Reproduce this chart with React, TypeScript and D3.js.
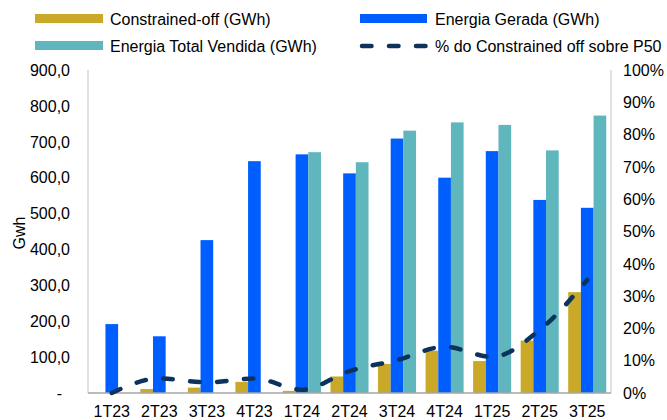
import React from "react";
import * as d3 from "d3";

const categories = ["1T23", "2T23", "3T23", "4T23", "1T24", "2T24", "3T24", "4T24", "1T25", "2T25", "3T25"];
const constrainedOff: number[] = [0, 11, 15, 31, 6, 46, 81, 118, 89, 146, 281];
const energiaGerada: number[] = [192, 158, 426, 646, 665, 612, 709, 600, 674, 538, 516];
const energiaVendida: (number | null)[] = [null, null, null, null, 671, 643, 731, 754, 747, 676, 773];
const pctConstrained: number[] = [0.0, 0.045, 0.033, 0.045, 0.01, 0.068, 0.102, 0.143, 0.112, 0.195, 0.35];
const leftTicks = [0, 100, 200, 300, 400, 500, 600, 700, 800, 900];
const rightTicks = [0, 0.1, 0.2, 0.3, 0.4, 0.5, 0.6, 0.7, 0.8, 0.9, 1.0];

const W = 667, H = 420;
const plot = { left: 88, right: 611, top: 70, bottom: 393 };
const GOLD = "#C9A927";
const BLUE = "#005EFF";
const TEAL = "#5FB6BD";
const NAVY = "#0C335E";
const FONT = "'Liberation Sans', Arial, sans-serif";

export default function App() {
  const x = d3.scaleBand<string>().domain(categories).range([plot.left, plot.right]).paddingInner(0.2).paddingOuter(0.1);
  const x1 = d3.scaleBand<string>().domain(["c", "g", "v"]).range([0, x.bandwidth()]);
  const y = d3.scaleLinear().domain([0, 900]).range([plot.bottom, plot.top]);
  const y2 = d3.scaleLinear().domain([0, 1]).range([plot.bottom, plot.top]);
  const fmtL = (v: number) => (v === 0 ? "-" : d3.format(".1f")(v).replace(".", ","));
  const fmtR = d3.format(".0%");

  const line = d3
    .line<number>()
    .x((_, i) => (x(categories[i]) as number) + x.bandwidth() / 2)
    .y((d) => y2(d))
    .curve(d3.curveMonotoneX);

  const dash = "9.5,17.5";

  return (
    <svg width={W} height={H} style={{ position: "absolute", left: 0, top: 0, background: "#fff" }} fontFamily={FONT}>
      {/* legend */}
      <rect x={35} y={14} width={68} height={9} fill={GOLD} />
      <text x={110} y={24.5} fontSize={16} fill="#000">Constrained-off (GWh)</text>
      <rect x={360} y={14} width={67} height={9} fill={BLUE} />
      <text x={435} y={24.5} fontSize={16} fill="#000">Energia Gerada (GWh)</text>
      <rect x={35} y={41} width={68} height={9} fill={TEAL} />
      <text x={110} y={51.5} fontSize={16} fill="#000">Energia Total Vendida (GWh)</text>
      <line x1={362} x2={427} y1={46} y2={46} stroke={NAVY} strokeWidth={4.5} strokeDasharray={dash} strokeLinecap="round" />
      <text x={435} y={51.5} fontSize={16} fill="#000">% do Constrained off sobre P50</text>

      {/* axes lines */}
      <line x1={plot.left} x2={plot.left} y1={plot.top} y2={plot.bottom} stroke="#D9D9D9" strokeWidth={1.5} />
      <line x1={plot.right} x2={plot.right} y1={plot.top} y2={plot.bottom} stroke="#D9D9D9" strokeWidth={1.5} />

      {/* left ticks */}
      {leftTicks.map((t) => (
        <text key={"l" + t} x={t === 0 ? 62 : 70} y={y(t)} dy="0.36em" textAnchor="end" fontSize={16} fill="#000">
          {fmtL(t)}
        </text>
      ))}
      {/* right ticks */}
      {rightTicks.map((t) => (
        <text key={"r" + t} x={623} y={y2(t)} dy="0.36em" textAnchor="start" fontSize={16} fill="#000">
          {fmtR(t)}
        </text>
      ))}
      <text transform={`translate(25,233) rotate(-90)`} textAnchor="middle" fontSize={16} fill="#000">Gwh</text>

      {/* bars */}
      {categories.map((c, i) => {
        const x0 = x(c) as number;
        const bars: { key: string; v: number | null; color: string }[] = [
          { key: "c", v: constrainedOff[i], color: GOLD },
          { key: "g", v: energiaGerada[i], color: BLUE },
          { key: "v", v: energiaVendida[i], color: TEAL },
        ];
        return (
          <g key={c}>
            {bars.map((b) =>
              b.v == null || b.v <= 0 ? null : (
                <rect key={b.key} x={x0 + (x1(b.key) as number)} y={y(b.v)} width={x1.bandwidth()} height={plot.bottom - y(b.v)} fill={b.color} />
              )
            )}
          </g>
        );
      })}

      {/* baseline */}
      <line x1={plot.left} x2={plot.right} y1={plot.bottom} y2={plot.bottom} stroke="#A6A6A6" strokeWidth={1.5} />

      {/* line */}
      <path d={line(pctConstrained) || ""} fill="none" stroke={NAVY} strokeWidth={4.5} strokeDasharray={dash} strokeLinecap="round" />

      {/* category labels */}
      {categories.map((c) => (
        <text key={"x" + c} x={(x(c) as number) + x.bandwidth() / 2} y={417} textAnchor="middle" fontSize={16} fill="#000">
          {c}
        </text>
      ))}
    </svg>
  );
}
